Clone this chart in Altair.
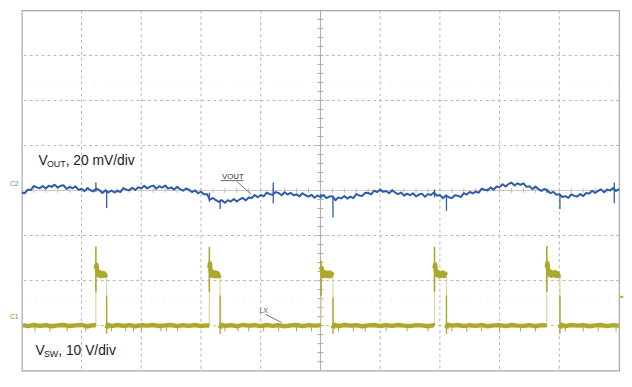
import altair as alt
import numpy as np
import pandas as pd

# ---------------- data ----------------
# Horizontal: 10 divisions. Vertical: 8 divisions (screen centre = 0 div).
VOUT_STEP = 0.05          # div between VOUT samples
VOUT_SCALE = 20.0         # mV/div
VSW_SCALE = 10.0          # V/div
VSW_OFFSET = -3.0         # div, C1 ground level

# VOUT (AC), mV relative to screen centre, one sample every 0.05 div
vout_mv = [
    -0.9, -1.2, 0.4, 0.2, 2.0, 1.4, 1.0, 2.0, 0.9, 2.1,
    1.6, 2.6, 1.3, 2.1, 2.3, 0.7, 1.7, 1.0, 1.8, 0.3,
    0.8, -0.3, 1.1, 0.1, -0.3, 0.9, 0.1, -1.1, 0.1, -0.9,
    0.0, -0.9, -0.1, -0.7, 1.1, 0.4, 0.1, 1.2, 0.2, 1.4,
    1.0, 2.1, 0.9, 1.7, 2.2, 0.8, 1.9, 1.3, 2.2, 0.8,
    1.4, 0.4, 1.7, 0.6, -0.1, 0.9, 0.3, -0.7, 0.1, -1.2,
    -0.6, -1.7, -1.6, -4.1, -3.3, -4.3, -5.1, -4.3, -5.5, -4.3,
    -4.9, -3.8, -4.9, -3.9, -3.3, -4.4, -3.1, -3.3, -2.0, -3.0,
    -2.0, -2.6, -0.9, -1.6, -1.9, -0.7, -1.1, -2.1, -0.8, -1.8,
    -1.0, -2.1, -1.7, -2.6, -1.2, -2.1, -2.7, -1.9, -3.2, -2.2,
    -2.9, -2.0, -3.4, -2.7, -2.5, -4.3, -3.1, -3.5, -2.4, -3.6,
    -2.7, -3.4, -1.6, -2.2, -2.4, -1.0, -1.1, -1.7, 0.0, -0.7,
    0.4, -0.6, -0.2, -1.2, 0.1, -0.9, -1.6, -0.9, -2.3, -1.4,
    -2.1, -1.2, -2.6, -1.8, -1.4, -2.8, -1.6, -2.0, -0.9, -2.3,
    -2.0, -3.4, -2.2, -3.0, -3.4, -2.1, -2.3, -2.9, -1.2, -1.8,
    -0.6, -1.3, -0.5, -1.0, 0.8, 0.3, 0.1, 1.3, 0.4, 1.8,
    1.5, 2.8, 1.8, 2.9, 3.5, 2.2, 3.2, 2.5, 3.2, 1.6,
    1.9, 0.6, 1.8, 0.6, -0.2, 0.7, 0.0, -1.2, -0.6, -1.9,
    -1.6, -2.9, -2.5, -3.3, -1.7, -2.4, -2.7, -1.6, -2.5, -1.1,
    -1.4, -0.1, -1.1, -0.1, 0.5, -0.8, 0.4, 0.0, 1.1, -0.2,
    0.6,
]

# VOUT switching spikes (time in div, extremes in mV)
spike_t = [1.24, 1.42, 3.14, 3.32, 4.21, 5.01, 5.21, 6.91, 7.11, 8.79, 9.01, 9.92]
spike_hi = [3.6, 0.0, -1.0, -4.0, 3.6, -1.5, -3.0, 0.5, -2.5, 0.8, -2.0, 3.6]
spike_lo = [-0.5, -7.8, -5.0, -8.2, -5.7, -3.5, -12.0, -3.0, -9.0, -1.0, -8.2, -5.7]

# VSW trace (time in div, volts); None separates trace segments
vsw_t = [
    0.02, 0.1, 0.2, 0.3, 0.4, 0.5, 0.6, 0.7, 0.8, 0.9, 1.0, 1.1, 1.2, 1.24, None,
    1.24, 1.25, 1.26, 1.28, 1.30, 1.32, 1.34, 1.36, 1.38, 1.40, 1.42, None,
    1.42, 1.44, 1.5, 1.6, 1.7, 1.8, 1.9, 2.0, 2.1, 2.2, 2.3, 2.4, 2.5, 2.6,
    2.7, 2.8, 2.9, 3.0, 3.1, 3.14, None,
    3.14, 3.15, 3.16, 3.18, 3.20, 3.22, 3.24, 3.26, 3.28, 3.30, 3.32, None,
    3.32, 3.34, 3.4, 3.5, 3.6, 3.7, 3.8, 3.9, 4.0, 4.1, 4.2, 4.3, 4.4, 4.5,
    4.6, 4.7, 4.8, 4.9, 5.0, 5.01, None,
    5.01, 5.02, 5.03, 5.05, 5.07, 5.09, 5.11, 5.13, 5.15, 5.17, 5.19, 5.21, None,
    5.21, 5.23, 5.3, 5.4, 5.5, 5.6, 5.7, 5.8, 5.9, 6.0, 6.1, 6.2, 6.3, 6.4,
    6.5, 6.6, 6.7, 6.8, 6.9, 6.91, None,
    6.91, 6.92, 6.93, 6.95, 6.97, 6.99, 7.01, 7.03, 7.05, 7.07, 7.09, 7.11, None,
    7.11, 7.13, 7.2, 7.3, 7.4, 7.5, 7.6, 7.7, 7.8, 7.9, 8.0, 8.1, 8.2, 8.3,
    8.4, 8.5, 8.6, 8.7, 8.79, None,
    8.79, 8.80, 8.81, 8.83, 8.85, 8.87, 8.89, 8.91, 8.93, 8.95, 8.97, 8.99, 9.01, None,
    9.01, 9.03, 9.1, 9.2, 9.3, 9.4, 9.5, 9.6, 9.7, 9.8, 9.9, 10.0,
]
vsw_v = [
    0.1, -0.1, 0.15, -0.05, 0.1, -0.15, 0.05, 0.15, -0.1, 0.05, 0.15, -0.15, 0.1, 0.05, None,
    12.6, 13.5, 12.2, 11.2, 11.9, 11.0, 11.7, 11.1, 11.6, 11.1, 11.4, None,
    -0.6, 0.2, -0.1, 0.15, -0.05, 0.1, -0.15, 0.1, 0.0, 0.15, -0.1, 0.05, 0.15, -0.1,
    0.1, -0.05, 0.15, -0.1, 0.05, 0.0, None,
    12.8, 13.8, 12.2, 11.1, 11.9, 11.0, 11.8, 11.0, 11.6, 11.0, 11.3, None,
    -0.6, 0.2, -0.05, 0.1, -0.15, 0.15, 0.0, 0.1, -0.1, 0.15, -0.05, 0.1, -0.15, 0.05,
    0.15, -0.1, 0.1, 0.0, 0.05, 0.05, None,
    12.4, 12.8, 11.6, 11.0, 11.9, 11.1, 11.7, 11.0, 11.8, 11.0, 11.5, 11.2, None,
    -0.6, 0.2, -0.1, 0.15, 0.0, 0.1, -0.15, 0.05, 0.15, -0.1, 0.1, -0.05, 0.15, 0.0,
    -0.1, 0.1, 0.05, -0.15, 0.1, 0.05, None,
    12.7, 13.6, 12.3, 11.2, 11.9, 11.0, 11.7, 11.1, 11.8, 11.0, 11.5, 11.2, None,
    -0.6, 0.2, 0.0, 0.15, -0.1, 0.1, -0.05, 0.15, -0.15, 0.05, 0.1, -0.1, 0.15, 0.0,
    -0.05, 0.1, -0.15, 0.1, 0.05, None,
    12.9, 13.9, 12.5, 11.3, 12.0, 11.1, 11.8, 11.2, 11.9, 11.0, 11.6, 11.1, 11.3, None,
    -0.6, 0.2, -0.1, 0.15, 0.0, 0.1, -0.15, 0.05, 0.15, -0.1, 0.1, 0.0,
]

# switching edges: rising-edge overshoot spikes and falling-edge undershoots (V)
rise_t = [1.24, 3.14, 5.01, 6.91, 8.79]
rise_lo = [7.5, 7.5, 6.5, 7.5, 7.5]
rise_hi = [17.5, 17.5, 14.4, 17.5, 17.7]
fall_t = [1.42, 3.32, 5.21, 7.11, 9.01]
fall_hi = [6.7, 6.7, 6.2, 6.7, 6.7]
fall_lo = [-1.8, -1.8, -1.8, -1.8, -1.8]
edge_top = 11.3
# small glitches below the VSW baseline
glitch_t = [0.22, 0.47, 0.76, 1.07, 1.50, 1.74, 1.87, 2.00, 2.33, 2.42, 2.61,
            3.40, 3.62, 3.80, 4.05, 4.30, 4.60, 4.85, 5.30, 5.55, 5.75, 6.10,
            6.45, 6.80, 7.20, 7.45, 7.70, 8.00, 8.35, 8.60, 9.10, 9.40, 9.65, 9.95]
glitch_v = [-1.3] * len(glitch_t)

# ---------------- tables ----------------
vout = pd.DataFrame({
    "t": np.round(np.arange(len(vout_mv)) * VOUT_STEP, 3),
    "y": np.array(vout_mv) / VOUT_SCALE,
})
spikes = pd.DataFrame({
    "t": spike_t,
    "y": np.array(spike_hi) / VOUT_SCALE,
    "y2": np.array(spike_lo) / VOUT_SCALE,
})
sw = pd.DataFrame({"t": vsw_t, "v": vsw_v}, dtype=float)
sw["seg"] = sw["t"].isna().cumsum()
sw = sw.dropna().reset_index(drop=True)
sw["i"] = np.arange(len(sw))
sw["y"] = sw["v"] / VSW_SCALE + VSW_OFFSET

def vdiv(v):
    return np.array(v, dtype=float) / VSW_SCALE + VSW_OFFSET

all_edges = rise_t + fall_t
edges = pd.DataFrame({"t": all_edges, "y": VSW_OFFSET, "y2": vdiv([edge_top] * len(all_edges))})
rises = pd.DataFrame({"t": rise_t, "y": vdiv(rise_lo), "y2": vdiv(rise_hi)})
falls = pd.DataFrame({"t": fall_t, "y": vdiv(fall_lo), "y2": vdiv(fall_hi)})
glitches = pd.DataFrame({"t": glitch_t, "y": VSW_OFFSET, "y2": vdiv(glitch_v)})

# graticule
vgrid = pd.DataFrame({"t": [1, 2, 3, 4, 6, 7, 8, 9]})
hgrid = pd.DataFrame({"y": [-3, -2, -1, 1, 2, 3]})
minor_y = [round(v, 2) for v in np.arange(-3.8, 3.81, 0.2) if abs(v) > 0.01]
minor_t = [round(v, 2) for v in np.arange(0.2, 9.81, 0.2) if abs(v - 5) > 0.01]
vticks = pd.DataFrame({"y": minor_y, "t": 4.95, "t2": 5.05})
hticks = pd.DataFrame({"t": minor_t, "y": -0.05, "y2": 0.05})
faint = pd.DataFrame({"y": [2.4, -2.45]})

xs = alt.Scale(domain=[0, 10], nice=False, zero=False)
ys = alt.Scale(domain=[-4, 4], nice=False, zero=False)
X = lambda f="t": alt.X(f"{f}:Q", scale=xs, axis=None)
Y = lambda f="y": alt.Y(f"{f}:Q", scale=ys, axis=None)

GRID = "#b5b5b5"
BLUE = "#2e5aa8"
OLIVE = "#aca82c"
TXT = "#1c1c1c"
FONT = "Liberation Sans"

layers = []
layers.append(alt.Chart(faint).mark_rule(color="#dadada", strokeDash=[1, 9], strokeWidth=1)
              .encode(y=Y()))
layers.append(alt.Chart(vgrid).mark_rule(color=GRID, strokeDash=[3, 3], strokeWidth=1)
              .encode(x=X()))
layers.append(alt.Chart(hgrid).mark_rule(color=GRID, strokeDash=[3, 3], strokeWidth=1)
              .encode(y=Y()))
layers.append(alt.Chart(pd.DataFrame({"t": [5]})).mark_rule(color="#a8a8a8", strokeWidth=1)
              .encode(x=X()))
layers.append(alt.Chart(pd.DataFrame({"y": [0]})).mark_rule(color="#d3c6bd", strokeWidth=1)
              .encode(y=Y()))
layers.append(alt.Chart(vticks).mark_rule(color="#a8a8a8", strokeWidth=1)
              .encode(x=X(), x2="t2:Q", y=Y()))
layers.append(alt.Chart(hticks).mark_rule(color="#c4b8ae", strokeWidth=1)
              .encode(x=X(), y=Y(), y2="y2:Q"))

# VSW
layers.append(alt.Chart(edges).mark_rule(color="#d8d6a6", strokeWidth=1.2)
              .encode(x=X(), y=Y(), y2="y2:Q"))
layers.append(alt.Chart(glitches).mark_rule(color=OLIVE, strokeWidth=1)
              .encode(x=X(), y=Y(), y2="y2:Q"))
layers.append(alt.Chart(rises).mark_rule(color=OLIVE, strokeWidth=1.6)
              .encode(x=X(), y=Y(), y2="y2:Q"))
layers.append(alt.Chart(falls).mark_rule(color=OLIVE, strokeWidth=1.4)
              .encode(x=X(), y=Y(), y2="y2:Q"))
layers.append(alt.Chart(sw).mark_line(color=OLIVE, strokeWidth=4.5, strokeJoin="round", strokeCap="butt")
              .encode(x=X(), y=Y(), detail="seg:N", order="i:Q"))

# VOUT
layers.append(alt.Chart(spikes).mark_rule(color=BLUE, strokeWidth=1.3)
              .encode(x=X(), y=Y(), y2="y2:Q"))
layers.append(alt.Chart(vout).mark_line(color=BLUE, strokeWidth=2, strokeJoin="round")
              .encode(x=X(), y=Y()))

# annotations
def txt(df, **kw):
    return alt.Chart(df).mark_text(font=FONT, align="left", baseline="alphabetic", **kw).encode(
        x=X(), y=Y(), text="s:N")

lab_vout = pd.DataFrame({"t": [0.28], "y": [0.56]})
lab_vsw = pd.DataFrame({"t": [0.23], "y": [-3.645]})
layers += [
    txt(lab_vout.assign(s="V"), fontSize=14, color=TXT),
    txt(lab_vout.assign(s="OUT"), fontSize=9, color=TXT, dx=8.5, dy=2),
    txt(lab_vout.assign(s=", 20 mV/div"), fontSize=14, color=TXT, dx=27.5),
    txt(lab_vsw.assign(s="V"), fontSize=14, color=TXT),
    txt(lab_vsw.assign(s="SW"), fontSize=9, color=TXT, dx=8.5, dy=2),
    txt(lab_vsw.assign(s=", 10 V/div"), fontSize=14, color=TXT, dx=23),
]
# probe tags
layers.append(alt.Chart(pd.DataFrame({"t": [3.35], "y": [0.26], "s": ["VOUT"]}))
              .mark_text(font=FONT, fontSize=8, color="#333333", align="left", baseline="alphabetic")
              .encode(x=X(), y=Y(), text="s:N"))
layers.append(alt.Chart(pd.DataFrame({"t": [3.33], "t2": [3.71], "y": [0.22]}))
              .mark_rule(color="#444444", strokeWidth=0.8).encode(x=X(), x2="t2:Q", y=Y()))
layers.append(alt.Chart(pd.DataFrame({"t": [3.6], "t2": [3.84], "y": [0.2], "y2": [-0.08]}))
              .mark_rule(color="#555555", strokeWidth=0.8).encode(x=X(), x2="t2:Q", y=Y(), y2="y2:Q"))
layers.append(alt.Chart(pd.DataFrame({"t": [3.98], "y": [-2.72], "s": ["LX"]}))
              .mark_text(font=FONT, fontSize=7, color="#555555", align="left", baseline="alphabetic")
              .encode(x=X(), y=Y(), text="s:N"))
layers.append(alt.Chart(pd.DataFrame({"t": [4.08], "t2": [4.35], "y": [-2.75], "y2": [-2.93]}))
              .mark_rule(color="#555555", strokeWidth=0.8).encode(x=X(), x2="t2:Q", y=Y(), y2="y2:Q"))
# channel markers
layers.append(alt.Chart(pd.DataFrame({"t": [-0.2], "y": [0.1], "s": ["C2"]}))
              .mark_text(font=FONT, fontSize=7, color="#6f86b8", align="left", baseline="alphabetic")
              .encode(x=X(), y=Y(), text="s:N"))
layers.append(alt.Chart(pd.DataFrame({"t": [-0.2], "y": [-2.86], "s": ["C1"]}))
              .mark_text(font=FONT, fontSize=7, color="#8f8c2a", align="left", baseline="alphabetic")
              .encode(x=X(), y=Y(), text="s:N"))
layers.append(alt.Chart(pd.DataFrame({"t": [10.02], "t2": [10.07], "y": [-2.36]}))
              .mark_rule(color=OLIVE, strokeWidth=2).encode(x=X(), x2="t2:Q", y=Y()))

# whole SVG kept inside the 632x387 window (8px page margin): 624 x 366
chart = alt.layer(*layers).properties(
    width=605,
    height=365,
    padding={"left": 14, "top": 0, "right": 5, "bottom": 1},
    autosize=alt.AutoSizeParams(type="none"),
    background="white",
).configure_view(stroke="#a6a6a6", strokeWidth=1.2)

chart.save("out.html", embed_options={"renderer": "svg", "actions": False})
